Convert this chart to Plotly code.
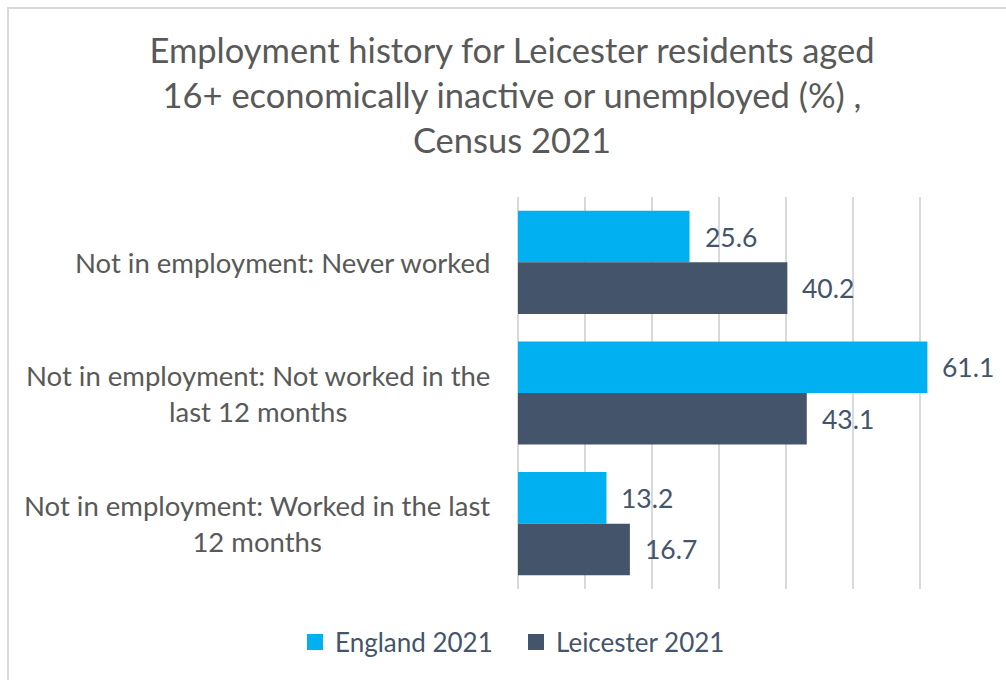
import plotly.graph_objects as go

# Data
categories = [
    "Not in employment: Never worked",
    "Not in employment: Not worked in the<br>last 12 months",
    "Not in employment: Worked in the last<br>12 months",
]
england_2021 = [25.6, 61.1, 13.2]
leicester_2021 = [40.2, 43.1, 16.7]
series_names = ["England 2021", "Leicester 2021"]
x_ticks = [0, 10, 20, 30, 40, 50, 60, 70]

FONT = "Lato, 'Open Sans', sans-serif"
BLUE = "#00B0F0"
SLATE = "#44546A"
GREY_TEXT = "#595959"
GRID = "#D9D9D9"

W, H = 1006, 680
ML, MR, MT, MB = 518, 19, 197, 91
plot_w = W - ML - MR
plot_h = H - MT - MB

ypos = list(range(len(categories)))
colors = [BLUE, SLATE]

fig = go.Figure()
for name, vals, col in zip(series_names, [england_2021, leicester_2021], colors):
    fig.add_trace(go.Bar(
        y=ypos, x=vals, orientation="h", name=name, showlegend=False,
        marker=dict(color=col, line=dict(width=0)),
    ))
# legend entries with larger square swatches
for name, col in zip(series_names, colors):
    fig.add_trace(go.Scatter(
        x=[None], y=[None], mode="markers", name=name,
        marker=dict(symbol="square", size=16, color=col, line=dict(width=0)),
    ))

bargap = 0.21
half_bar_px = (1 - bargap) / 2 * (plot_h / len(categories)) / 2

annotations = []
# value labels to the right of each bar
for i, (e, l) in enumerate(zip(england_2021, leicester_2021)):
    for val, shift in ((e, half_bar_px), (l, -half_bar_px)):
        annotations.append(dict(
            x=val, y=i, xref="x", yref="y", text=f"{val:.1f}",
            showarrow=False, xanchor="left", yanchor="middle",
            xshift=13, yshift=shift,
            font=dict(family=FONT, size=26.5, color=SLATE),
        ))
# category labels, centred multi-line
for i, cat in enumerate(categories):
    annotations.append(dict(
        x=0, y=i, xref="paper", yref="y", text=cat,
        showarrow=False, xanchor="right", yanchor="middle", align="center",
        xshift=-26,
        font=dict(family=FONT, size=27.5, color=GREY_TEXT),
    ))

# chart border
shapes = [dict(
    type="rect", xref="paper", yref="paper",
    x0=(8 - ML) / plot_w, x1=(W + 10 - ML) / plot_w,
    y0=(H - MB - (H + 10)) / plot_h, y1=(H - MB - 8) / plot_h,
    line=dict(color=GRID, width=2), fillcolor="rgba(0,0,0,0)", layer="below",
)]

fig.update_layout(
    width=W, height=H,
    margin=dict(l=ML, r=MR, t=MT, b=MB, pad=0),
    paper_bgcolor="white", plot_bgcolor="white",
    barmode="group", bargap=bargap, bargroupgap=0,
    title=dict(
        text="Employment history for Leicester residents aged<br>"
             "16+ economically inactive or unemployed (%) ,<br>Census 2021",
        x=512 / W, xanchor="center", xref="container",
        y=1 - 63 / H, yanchor="top", yref="container",
        font=dict(family=FONT, size=34.5, color=GREY_TEXT),
    ),
    xaxis=dict(
        range=[0, 70], tickvals=x_ticks, showticklabels=False,
        showgrid=True, gridcolor=GRID, gridwidth=1.5,
        zeroline=True, zerolinecolor=GRID, zerolinewidth=1.5,
        showline=False, ticks="", fixedrange=True,
    ),
    yaxis=dict(
        range=[len(categories) - 0.5, -0.5], showticklabels=False,
        showgrid=False, zeroline=False, showline=False, ticks="",
        fixedrange=True,
    ),
    legend=dict(
        orientation="h", xref="container", yref="container",
        x=516 / W, xanchor="center", y=1 - 642 / H, yanchor="middle",
        font=dict(family=FONT, size=26, color=SLATE),
        itemsizing="trace", traceorder="normal", entrywidth=176,
    ),
    annotations=annotations,
    shapes=shapes,
)

fig.write_html("out.html")
